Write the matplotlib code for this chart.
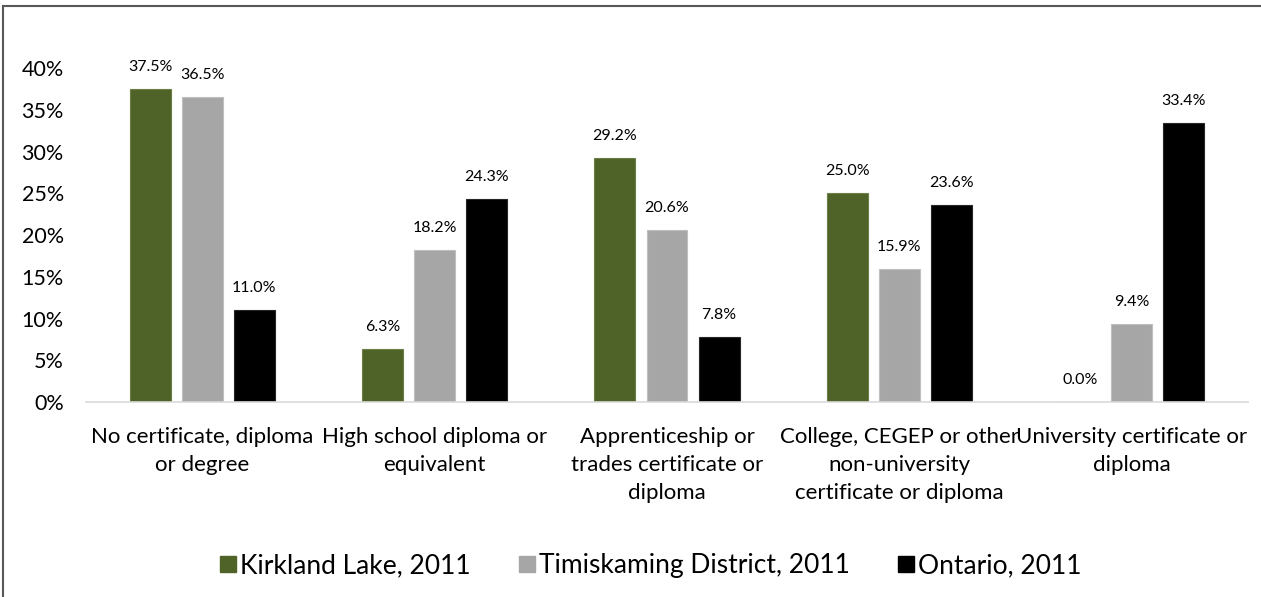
import matplotlib
matplotlib.use("Agg")
import matplotlib.pyplot as plt
import numpy as np
from matplotlib.lines import Line2D

plt.rcParams["font.family"] = ["Lato", "DejaVu Sans"]

# Highest certificate, diploma or degree, share of population (%)
categories = [
    "No certificate, diploma\nor degree",
    "High school diploma or\nequivalent",
    "Apprenticeship or\ntrades certificate or\ndiploma",
    "College, CEGEP or other\nnon-university\ncertificate or diploma",
    "University certificate or\ndiploma",
]
kirkland = [37.5, 6.3, 29.2, 25.0, 0.0]
timiskaming = [36.5, 18.2, 20.6, 15.9, 9.4]
ontario = [11.0, 24.3, 7.8, 23.6, 33.4]

series_names = ["Kirkland Lake, 2011", "Timiskaming District, 2011", "Ontario, 2011"]
series_colors = ["#4F6228", "#A6A6A6", "#000000"]
edge_colors = ["#6B7F45", "#BFBFBF", "#262626"]

fig = plt.figure(figsize=(12.61, 5.97), dpi=100)
ax = fig.add_axes([0.0682, 0.3266, 0.9215, 0.5594])

x = np.arange(len(categories))
width = 0.176
offset = 0.224

for i, (vals, name, color, ec) in enumerate(
        zip([kirkland, timiskaming, ontario], series_names, series_colors, edge_colors)):
    pos = x + (i - 1) * offset
    ax.bar(pos, vals, width, color=color, edgecolor=ec, linewidth=0.8, label=name)
    for xp, v in zip(pos, vals):
        ax.text(xp, v + 1.8, f"{v:.1f}%", ha="center", va="bottom", fontsize=11.5)

ax.set_xlim(-0.5, len(categories) - 0.5)
ax.set_ylim(0, 40)
ax.set_yticks(np.arange(0, 41, 5))
ax.set_yticklabels([f"{t}%" for t in range(0, 41, 5)], fontsize=15.5)
ax.set_xticks(x)
ax.set_xticklabels(categories, fontsize=16, linespacing=1.5, va="top")
ax.tick_params(axis="both", length=0)
ax.tick_params(axis="x", pad=18)
ax.tick_params(axis="y", pad=16)

for side in ["top", "right", "left"]:
    ax.spines[side].set_visible(False)
ax.spines["bottom"].set_color("#D9D9D9")
ax.spines["bottom"].set_linewidth(1.2)

handles = [Line2D([], [], marker="s", linestyle="none", markersize=11.5,
                  markerfacecolor=c, markeredgecolor=c) for c in series_colors]
fig.legend(handles, series_names, loc="center", bbox_to_anchor=(0.515, 1 - 566 / 597),
           ncol=3, frameon=False, fontsize=19, handletextpad=0.05, columnspacing=1.75,
           handlelength=0.8)

# chart frame
fig.add_artist(Line2D([3 / 1261, 3 / 1261], [0, 1 - 6 / 597], transform=fig.transFigure,
                      color="#595959", linewidth=1.5))
fig.add_artist(Line2D([3 / 1261, 1], [1 - 6 / 597, 1 - 6 / 597], transform=fig.transFigure,
                      color="#595959", linewidth=1.5))

fig.savefig("out.png", dpi=100)
